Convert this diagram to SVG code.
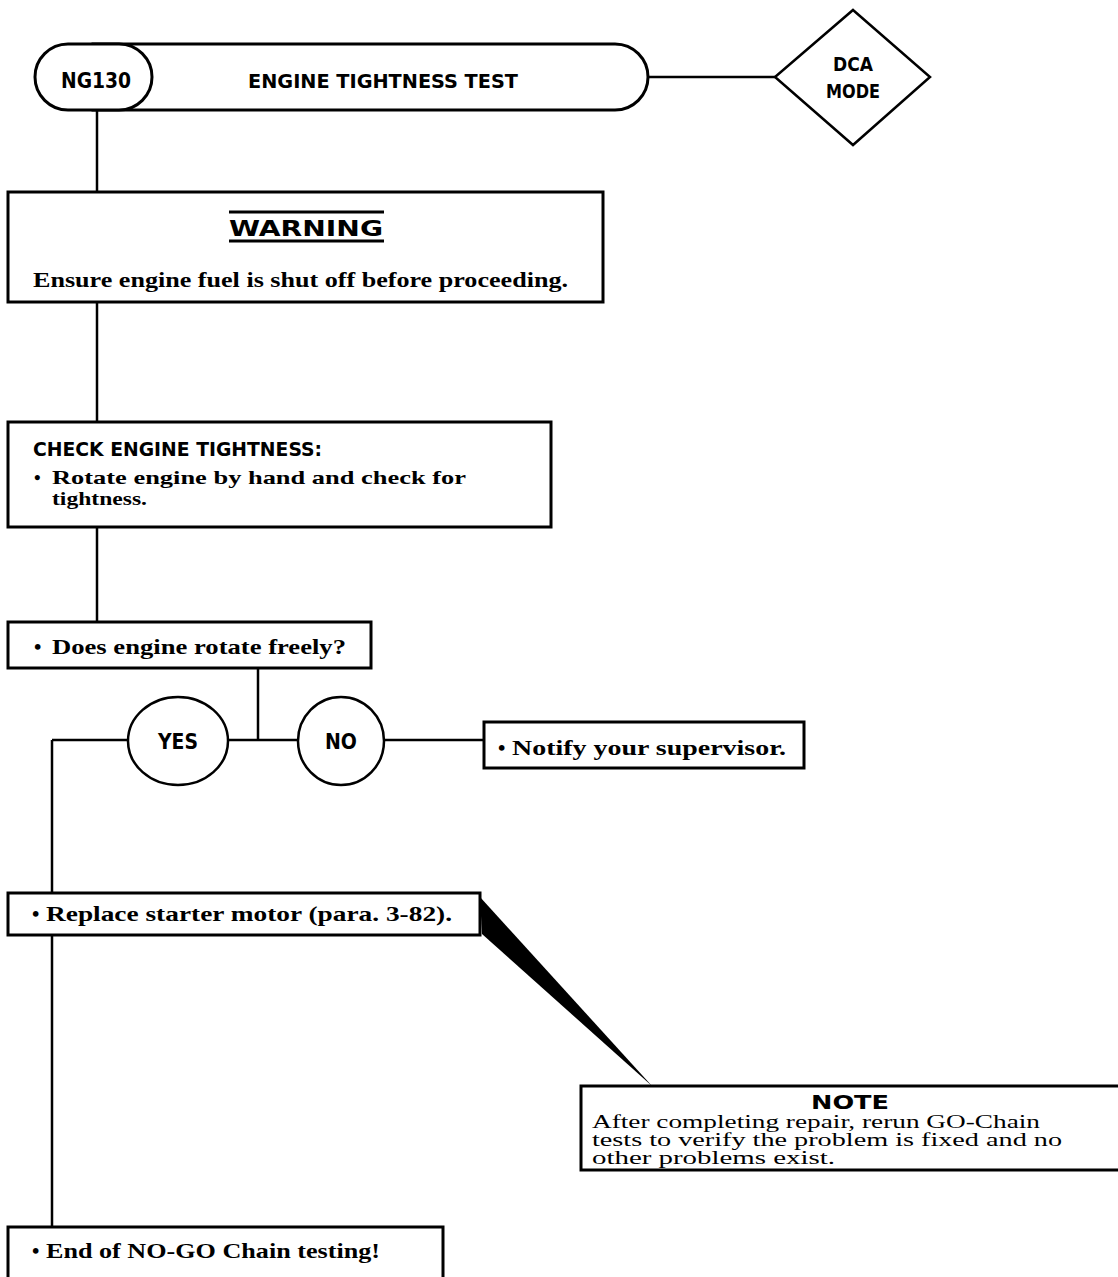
<svg xmlns="http://www.w3.org/2000/svg" width="1118" height="1277" viewBox="0 0 1118 1277">
<style>
.box{fill:#fff;stroke:#000;stroke-width:3}
.ln{fill:none;stroke:#000;stroke-width:2.5}
.hd{font-family:"DejaVu Sans Condensed","Liberation Sans",Arial,sans-serif;font-weight:bold;fill:#000}
.bd{font-family:"Liberation Serif","Times New Roman",serif;font-weight:bold;fill:#000}
.nt{font-family:"Liberation Serif","Times New Roman",serif;font-weight:normal;fill:#000}
.hv{font-family:"DejaVu Sans",sans-serif;font-weight:bold;fill:#000}
</style>
<rect width="1118" height="1277" fill="#fff"/>
<g id="connectors">
<line class="ln" x1="648" y1="77" x2="775" y2="77"/>
<line class="ln" x1="97" y1="110" x2="97" y2="192"/>
<line class="ln" x1="97" y1="302" x2="97" y2="422"/>
<line class="ln" x1="97" y1="527" x2="97" y2="622"/>
<line class="ln" x1="258" y1="668" x2="258" y2="740"/>
<line class="ln" x1="52" y1="740" x2="128" y2="740"/>
<line class="ln" x1="228" y1="740" x2="297" y2="740"/>
<line class="ln" x1="384" y1="740" x2="484" y2="740"/>
<line class="ln" x1="52" y1="740" x2="52" y2="893"/>
<line class="ln" x1="52" y1="935" x2="52" y2="1227"/>
<polygon points="480,897 482,934 652,1086" fill="#000"/>
</g>
<g id="header">
<path class="box" d="M 93 44 L 615 44 A 33 33 0 0 1 615 110 L 93 110 Z"/>
<path class="box" d="M 68 44 L 119 44 A 33 33 0 0 1 119 110 L 68 110 A 33 33 0 0 1 68 44 Z"/>
<text class="hd" x="96" y="88" font-size="21" text-anchor="middle" textLength="70" lengthAdjust="spacingAndGlyphs">NG130</text>
<text class="hd" x="383" y="88" font-size="20" text-anchor="middle" textLength="270" lengthAdjust="spacingAndGlyphs">ENGINE TIGHTNESS TEST</text>
</g>
<g id="dca-mode">
<polygon class="box" points="853,10 930,77 853,145 775,77" style="stroke-width:2.5"/>
<text class="hd" x="853" y="71" font-size="19" text-anchor="middle" textLength="40" lengthAdjust="spacingAndGlyphs">DCA</text>
<text class="hd" x="853" y="98" font-size="19" text-anchor="middle" textLength="54" lengthAdjust="spacingAndGlyphs">MODE</text>
</g>
<g id="warning">
<rect class="box" x="8" y="192" width="595" height="110"/>
<line class="ln" x1="229" y1="212" x2="384" y2="212" style="stroke-width:3"/>
<line class="ln" x1="229" y1="241" x2="384" y2="241" style="stroke-width:3"/>
<text class="hv" x="306" y="236" font-size="22" text-anchor="middle" textLength="154" lengthAdjust="spacingAndGlyphs">WARNING</text>
<text class="bd" x="33" y="287" font-size="21" textLength="535" lengthAdjust="spacingAndGlyphs">Ensure engine fuel is shut off before proceeding.</text>
</g>
<g id="check">
<rect class="box" x="8" y="422" width="543" height="105"/>
<text class="hd" x="33" y="456" font-size="19" textLength="289" lengthAdjust="spacingAndGlyphs">CHECK ENGINE TIGHTNESS:</text>
<text class="bd" x="34" y="484" font-size="19">•</text>
<text class="bd" x="52" y="484" font-size="19" textLength="414" lengthAdjust="spacingAndGlyphs">Rotate engine by hand and check for</text>
<text class="bd" x="52" y="505" font-size="19" textLength="95" lengthAdjust="spacingAndGlyphs">tightness.</text>
</g>
<g id="decision">
<rect class="box" x="8" y="622" width="363" height="46"/>
<text class="bd" x="34" y="654" font-size="21">•</text>
<text class="bd" x="52" y="654" font-size="21" textLength="294" lengthAdjust="spacingAndGlyphs">Does engine rotate freely?</text>
</g>
<g id="yes">
<ellipse class="box" cx="178" cy="741" rx="50" ry="44" style="stroke-width:2.5"/>
<text class="hd" x="178" y="749" font-size="21" text-anchor="middle" textLength="40" lengthAdjust="spacingAndGlyphs">YES</text>
</g>
<g id="no">
<ellipse class="box" cx="341" cy="741" rx="43" ry="44" style="stroke-width:2.5"/>
<text class="hd" x="341" y="749" font-size="21" text-anchor="middle" textLength="32" lengthAdjust="spacingAndGlyphs">NO</text>
</g>
<g id="notify">
<rect class="box" x="484" y="722" width="320" height="46"/>
<text class="bd" x="498" y="755" font-size="21">•</text>
<text class="bd" x="512" y="755" font-size="21" textLength="274" lengthAdjust="spacingAndGlyphs">Notify your supervisor.</text>
</g>
<g id="replace">
<rect class="box" x="8" y="893" width="472" height="42"/>
<text class="bd" x="32" y="921" font-size="21">•</text>
<text class="bd" x="46" y="921" font-size="21" textLength="406" lengthAdjust="spacingAndGlyphs">Replace starter motor (para. 3-82).</text>
</g>
<g id="note">
<path class="box" d="M 1120 1086 L 581 1086 L 581 1170 L 1120 1170"/>
<text class="hv" x="850" y="1109" font-size="19" text-anchor="middle" textLength="78" lengthAdjust="spacingAndGlyphs">NOTE</text>
<text class="nt" x="592" y="1128" font-size="18" textLength="448" lengthAdjust="spacingAndGlyphs">After completing repair, rerun GO-Chain</text>
<text class="nt" x="592" y="1146" font-size="18" textLength="470" lengthAdjust="spacingAndGlyphs">tests to verify the problem is fixed and no</text>
<text class="nt" x="592" y="1164" font-size="18" textLength="243" lengthAdjust="spacingAndGlyphs">other problems exist.</text>
</g>
<g id="end">
<path class="box" d="M 8 1280 L 8 1227 L 443 1227 L 443 1280"/>
<text class="bd" x="32" y="1258" font-size="21">•</text>
<text class="bd" x="46" y="1258" font-size="21" textLength="334" lengthAdjust="spacingAndGlyphs">End of NO-GO Chain testing!</text>
</g>
</svg>
